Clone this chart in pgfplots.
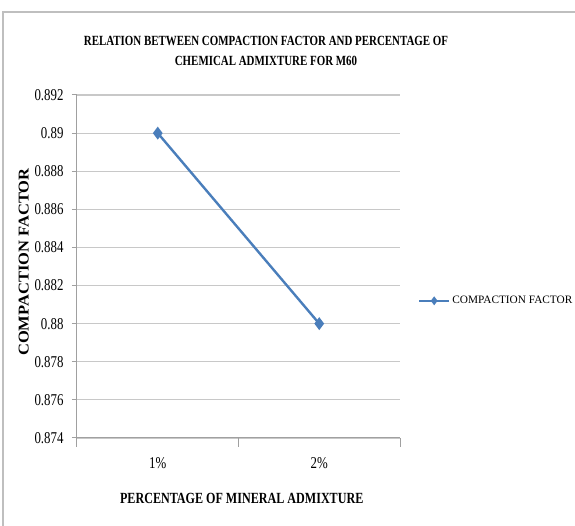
\documentclass[border=0pt]{standalone}
\usepackage{pgfplots}
\pgfplotsset{compat=1.18}
\usepackage{fontspec}
\setmainfont[FakeStretch=0.78]{Liberation Serif}
\newfontfamily\legfont{Liberation Serif}
\newfontfamily\ylabfont[FakeStretch=1.1]{Liberation Serif}
\definecolor{serblue}{RGB}{74,126,187}
\definecolor{gridgray}{RGB}{200,200,200}
\definecolor{axgray}{RGB}{160,160,160}
\begin{document}
\begin{tikzpicture}
\useasboundingbox (0,0) rectangle (575pt,526pt);
\fill[white] (0,0) rectangle (575pt,526pt);
\draw[gray!50, line width=1.5pt] (3pt,-20pt) rectangle (600pt,514pt);
\begin{axis}[
  at={(77pt,88pt)}, anchor=south west,
  scale only axis, width=323pt, height=343pt,
  xmin=0.5, xmax=2.5, ymin=0.874, ymax=0.892,
  axis x line*=bottom, axis y line*=left,
  axis line style={draw=axgray, line width=1pt},
  xtick={1,2}, xticklabels={1\%,2\%},
  major x tick style={draw=none},
  minor xtick={0.5,1.5,2.5},
  minor tick length=9pt,
  ytick={0.874,0.876,0.878,0.88,0.882,0.884,0.886,0.888,0.89,0.892},
  major tick length=5pt,
  tick align=outside,
  tick style={draw=axgray, line width=1pt},
  ymajorgrids, major grid style={draw=gridgray, line width=1.2pt},
  scaled y ticks=false,
  /pgf/number format/assume math mode=true,
  yticklabel style={/pgf/number format/.cd, fixed, precision=3, /tikz/.cd, xshift=-5pt},
  ticklabel style={font=\fontsize{16.5}{16.5}\selectfont},
  xticklabel style={yshift=-11pt},
  xlabel={\bfseries PERCENTAGE OF MINERAL ADMIXTURE},
  xlabel style={font=\fontsize{15.5}{15.5}\selectfont, at={(rel axis cs:0.51,-0.175)}, anchor=center},
  ylabel={\ylabfont\bfseries COMPACTION FACTOR},
  ylabel style={font=\fontsize{15}{15}\selectfont, at={(rel axis cs:-0.165,0.513)}, anchor=center, rotate=0},
  legend style={at={(1.055,0.40)}, anchor=west, draw=none, fill=none, font=\legfont\fontsize{11.3}{11.3}\selectfont, inner sep=0pt},
  legend image code/.code={\draw[#1,mark=none] (0pt,0pt) -- (30pt,0pt); \draw[#1,only marks,mark size=2.5pt] plot coordinates {(15pt,0pt)};},
]
\addplot[color=serblue, line width=2.4pt, mark=diamond*, mark size=4.5pt] coordinates {(1,0.890) (2,0.880)};
\addlegendentry{COMPACTION FACTOR}
\end{axis}
\node[align=center, font=\bfseries\fontsize{14}{19.5}\selectfont] at (266pt,475pt) {RELATION BETWEEN COMPACTION FACTOR AND PERCENTAGE OF\\CHEMICAL ADMIXTURE FOR M60};
\end{tikzpicture}
\end{document}
